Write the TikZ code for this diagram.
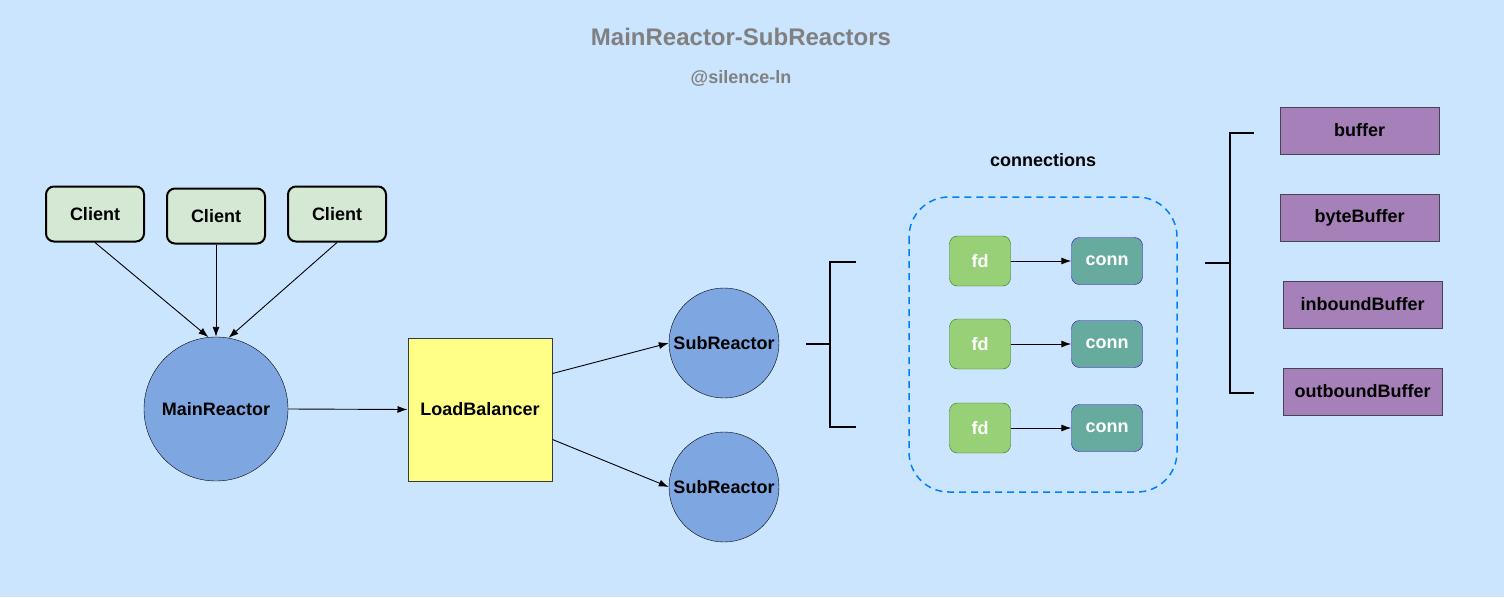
\documentclass[tikz,border=0pt]{standalone}
\usepackage{fontspec}
\setmainfont{Liberation Sans}
\usetikzlibrary{arrows.meta}
\definecolor{bgblue}{HTML}{CCE5FF}
\definecolor{clientfill}{HTML}{D5E8D4}
\definecolor{reactorfill}{HTML}{7EA6E0}
\definecolor{lbfill}{HTML}{FFFF88}
\definecolor{lbdraw}{HTML}{36393D}
\definecolor{fdfill}{HTML}{97D077}
\definecolor{fddraw}{HTML}{2D7600}
\definecolor{connfill}{HTML}{67AB9F}
\definecolor{conndraw}{HTML}{3700CC}
\definecolor{buffill}{HTML}{A680B8}
\definecolor{bufdraw}{HTML}{45454F}
\definecolor{titlegray}{HTML}{808080}
\definecolor{dashblue}{HTML}{007FFF}
\begin{document}
\begin{tikzpicture}[x=1pt, y=-1pt,
		every node/.style={font=\fontsize{18}{21}\selectfont\bfseries},
		client/.style={draw, line width=2pt, fill=clientfill, rounded corners=8pt, minimum width=98pt, minimum height=55pt},
		reactor/.style={draw, circle, fill=reactorfill, inner sep=0pt},
		fdbox/.style={draw=fddraw, fill=fdfill, text=white, rounded corners=8pt, minimum width=61pt, minimum height=50pt},
		connbox/.style={draw=conndraw, fill=connfill, text=white, rounded corners=8pt, minimum width=71pt, minimum height=47pt},
		bufbox/.style={draw=bufdraw, line width=1pt, fill=buffill, minimum width=159pt, minimum height=47pt},
		arr/.style={-{Latex[length=10pt,width=7pt]}, line width=0.9pt},
		brace/.style={line width=2pt}]
		\fill[bgblue] (0,0) rectangle (1504,597);
		\node[text=titlegray, font=\fontsize{24}{28}\selectfont\bfseries] (title) at (741,37) {MainReactor-SubReactors};
		\node[text=titlegray] (author) at (741,78) {@silence-ln};
		% clients
		\node[client] (c1) at (95,214) {Client};
		\node[client] (c2) at (216,216) {Client};
		\node[client] (c3) at (337,214) {Client};
		\node[reactor, minimum size=144pt] (main) at (216,409) {MainReactor};
		\draw[arr] (c1.south) -- (main.96);
		\draw[arr] (c2.south) -- (main.north);
		\draw[arr] (c3.south) -- (main.80);
		% balancer
		\node[draw=lbdraw, line width=1pt, fill=lbfill, minimum width=144pt, minimum height=143pt] (lb) at (480,409.5) {LoadBalancer};
		\draw[arr] (main.east) -- (lb.west);
		\node[reactor, minimum size=110pt] (sub1) at (724,343) {SubReactor};
		\node[reactor, minimum size=110pt] (sub2) at (724,487) {SubReactor};
		\draw[arr] ([yshift=36pt]lb.east) -- (sub1.west);
		\draw[arr] ([yshift=-30pt]lb.east) -- (sub2.west);
		% connections
		\draw[brace] (806,344) -- (830,344);
		\draw[brace] (856,262) -- (830,262) -- (830,427) -- (856,427);
		\node (conns) at (1043,160) {connections};
		\draw[dashblue, line width=1.5pt, dash pattern=on 7pt off 5pt, rounded corners=40pt] (909,197) rectangle (1177,492);
		\foreach \y [count=\i] in {261,344,428} {
			\node[fdbox] (fd\i) at (980,\y) {fd};
			\node[connbox] (conn\i) at (1107,\y) {conn};
			\draw[arr] (fd\i) -- (conn\i);
		}
		% buffers
		\draw[brace] (1205,263) -- (1230,263);
		\draw[brace] (1254,133) -- (1230,133) -- (1230,393) -- (1254,393);
		\node[bufbox] (buf) at (1359.5,130.5) {buffer};
		\node[bufbox] (bytebuf) at (1359.5,217.5) {byteBuffer};
		\node[bufbox] (inbuf) at (1362.5,304.5) {inboundBuffer};
		\node[bufbox] (outbuf) at (1362.5,391.5) {outboundBuffer};
\end{tikzpicture}
\end{document}
